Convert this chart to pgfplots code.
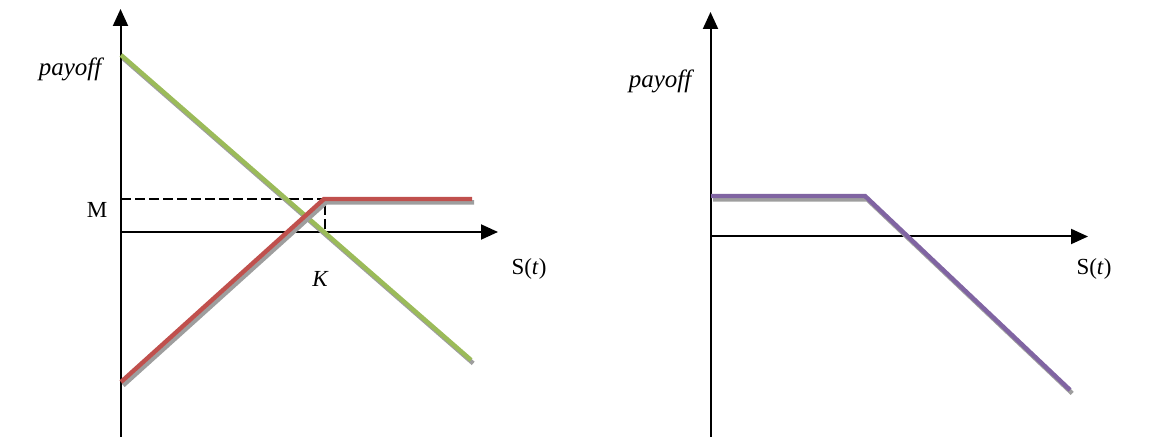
\documentclass[border=0pt]{standalone}
\usepackage{fontspec}
\setmainfont{Liberation Serif}
\usepackage{pgfplots}
\pgfplotsset{compat=1.18}
\usetikzlibrary{arrows.meta}

\definecolor{longgreen}{HTML}{9BBB59}
\definecolor{shortred}{HTML}{C0504D}
\definecolor{putpurple}{HTML}{8064A2}
\definecolor{shadowgray}{HTML}{9E9E9E}

\tikzset{
    axisarrow/.style={black, line width=1pt, -{Triangle[width=7.5pt,length=8.5pt]}},
    payoffline/.style={line width=2.2pt, line join=miter},
    shadow/.style={shadowgray, line width=2.2pt, line join=miter, shift={(1.1pt,-1.7pt)}},
    lbl/.style={inner sep=0pt, font=\fontsize{11.5}{13}\selectfont},
    bigit/.style={inner sep=0pt, font=\fontsize{12.5}{14}\selectfont\itshape},
}

\begin{document}
\begin{tikzpicture}
\begin{axis}[
    x=0.5pt, y=0.5pt,
    xmin=0, xmax=1160, ymin=0, ymax=437,
    hide axis, clip=false,
]
% ---- left panel: axes ----
\addplot[axisarrow] coordinates {(120.5,0) (120.5,428)};
\addplot[axisarrow] coordinates {(120,205) (498,205)};
% level M and strike K guides
\addplot[black, line width=0.75pt, dash pattern=on 5pt off 2pt] coordinates {(121,238) (325,238) (325,205)};
% long position (green) and capped position (red), each with a grey shadow
\addplot[shadow] coordinates {(121,382) (471,77)};
\addplot[payoffline, longgreen] coordinates {(121,382) (471,77)};
\addplot[shadow] coordinates {(121,55) (324,238) (472,238)};
\addplot[payoffline, shortred] coordinates {(121,55) (324,238) (472,238)};
% labels
\node[anchor=base, bigit] at (axis cs:70,361) {payoff};
\node[anchor=base, lbl] at (axis cs:97,219) {M};
\node[anchor=base, lbl, font=\fontsize{11.5}{13}\selectfont\itshape] at (axis cs:320,150) {K};
\node[anchor=base, lbl] at (axis cs:529,162) {S(\textit{t})};

% ---- right panel: axes ----
\addplot[axisarrow] coordinates {(710.5,0) (710.5,425)};
\addplot[axisarrow] coordinates {(710,200.5) (1088,200.5)};
% combined payoff (purple) with grey shadow
\addplot[shadow] coordinates {(711,241) (865,241) (1070,47)};
\addplot[payoffline, putpurple] coordinates {(711,241) (865,241) (1070,47)};
% labels
\node[anchor=base, bigit] at (axis cs:660,349) {payoff};
\node[anchor=base, lbl] at (axis cs:1094,162) {S(\textit{t})};
\end{axis}
\path (current axis.south west) rectangle (current axis.north east);
\end{tikzpicture}
\end{document}
